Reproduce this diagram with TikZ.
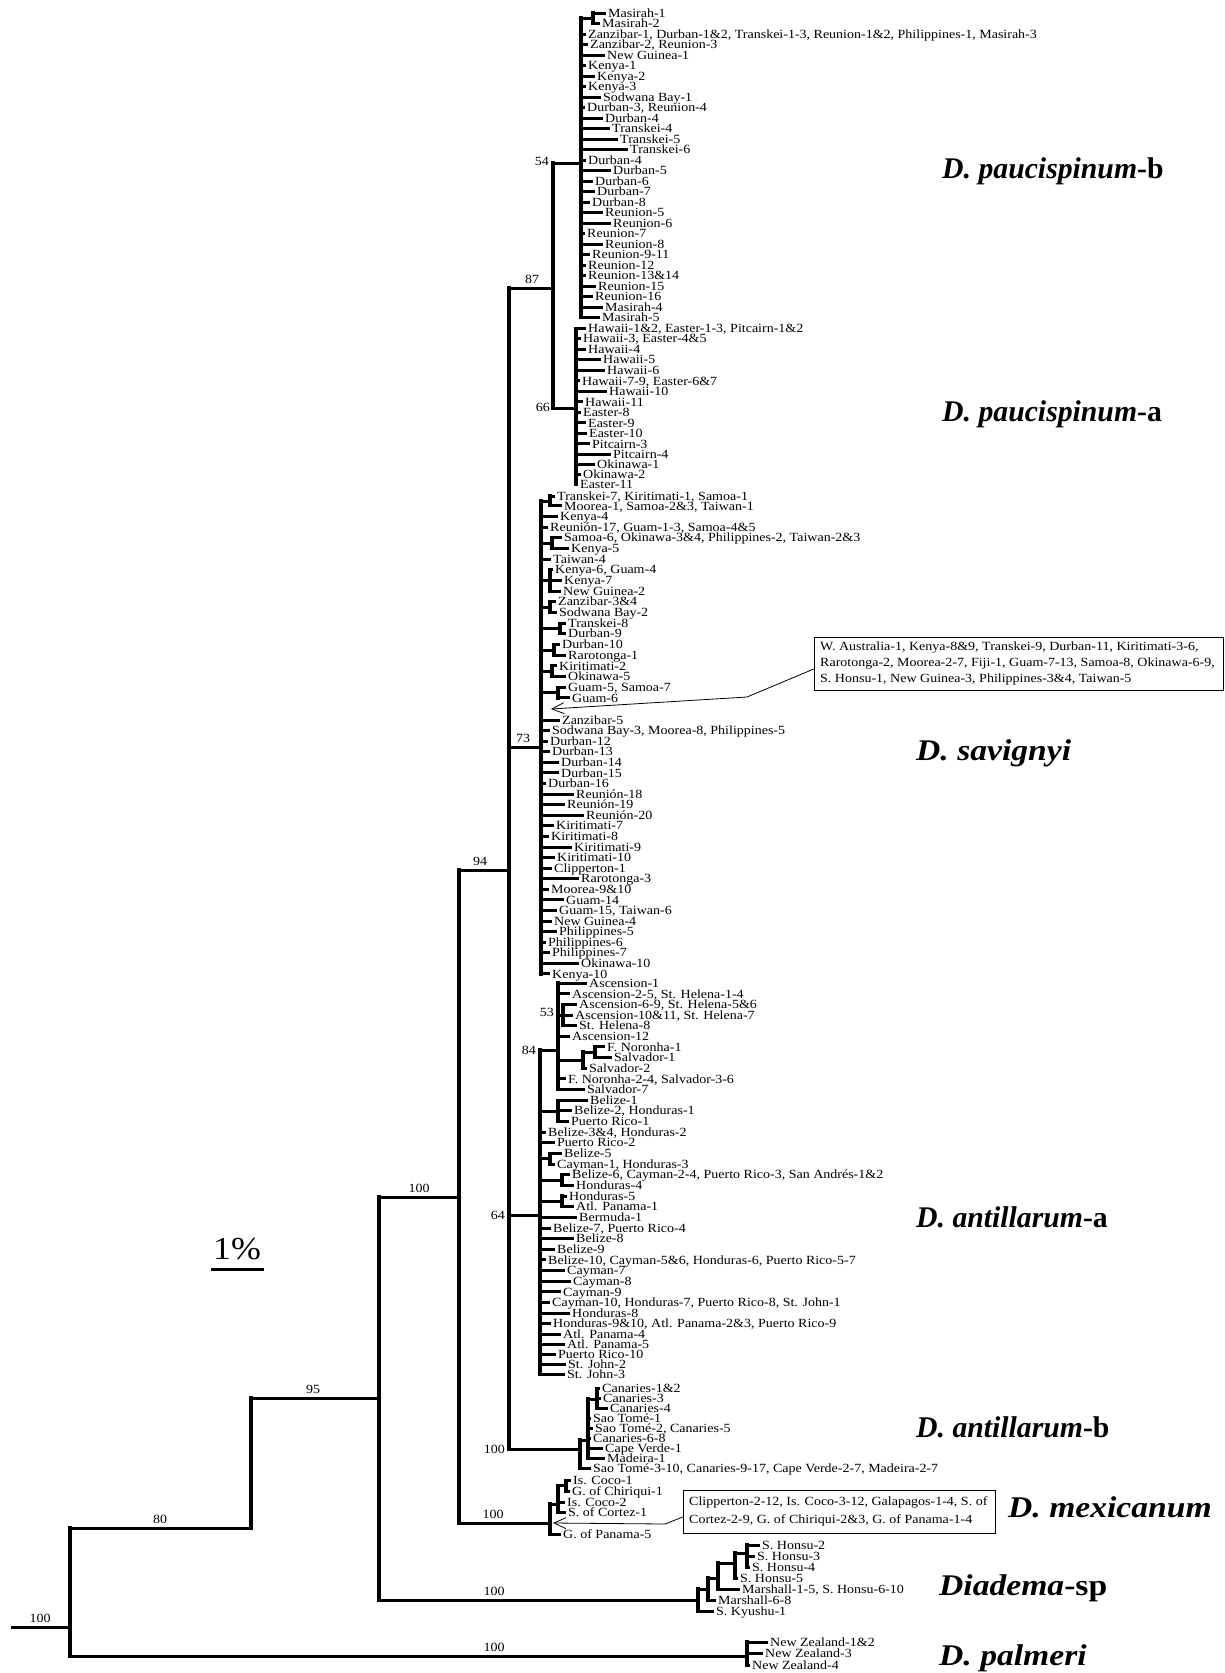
\documentclass[tikz,border=0pt]{standalone}
\usepackage{fontspec}
\setmainfont{Liberation Serif}[FakeStretch=1.12]
\usetikzlibrary{arrows.meta}
\newcommand\leaffnt{\fontsize{12.5}{12.5}\selectfont}
\newcommand\boxfnt{\fontsize{12.5}{16}\selectfont}
\newcommand\cladefnt{\fontsize{30}{30}\selectfont\bfseries}
\tikzset{
  br/.style={line width=3pt},
  vb/.style={line width=3.2pt, line cap=rect},
  lab/.style={font=\leaffnt, anchor=west, inner xsep=2pt, inner ysep=0pt, text height=8.2pt, text depth=0pt},
  bs/.style={font=\leaffnt, inner sep=1pt},
  clade/.style={font=\cladefnt, anchor=base west, inner sep=0pt},
  narrow/.style={xscale=0.885, transform shape},
  ptr/.style={line width=0.8pt, -{Straight Barb[length=12pt,width=11pt]}},
  frame/.style={draw, line width=0.8pt, anchor=north west, inner sep=0pt},
}
\newcommand\leafx[5]{\node[lab] (L#1) at (#3,#4) {#5}; \draw[br] (#2,#4) -- (L#1.west);}
\begin{document}
\begin{tikzpicture}[x=1pt,y=-1pt]
\fill[white] (0,0) rectangle (1225,1673);
\path[use as bounding box] (0,0) rectangle (1225,1673);
% backbone
\coordinate (rootend) at (11,1627);
\coordinate (rootnode) at (70,1627);
\draw[br] (rootend) -- (rootnode);
\draw[vb] (70,1528) -- (70,1656);
\draw[br] (70,1528) -- (251,1528);
\draw[vb] (251,1398) -- (251,1528);
\draw[br] (251,1398) -- (379,1398);
\draw[vb] (379,1197) -- (379,1600);
\draw[br] (379,1197) -- (459,1197);
\draw[vb] (459,870) -- (459,1523);
\draw[br] (459,870) -- (509,870);
\draw[vb] (509,288) -- (509,1449);
% paucispinum
\draw[br] (509,288) -- (553,288);
\draw[vb] (553,163) -- (553,408);
\draw[br] (553,163) -- (581,163);
\draw[vb] (581,18) -- (581,317.8);
\draw[br] (581,18) -- (593,18);
\draw[vb] (593,13) -- (593,23.5);
\draw[br] (553,408) -- (576,408);
\draw[vb] (576,328.3) -- (576,484.5);
% savignyi
\draw[br] (509,747) -- (541,747);
\draw[vb] (541,501) -- (541,973.9);
\draw[br] (541,501) -- (550,501);   \draw[vb] (550,496) -- (550,505.7);
\draw[br] (541,543) -- (552,543);   \draw[vb] (552,537.7) -- (552,548.4);
\draw[br] (541,580.4) -- (550,580.4); \draw[vb] (550,569.8) -- (550,591.1);
\draw[br] (541,607) -- (550,607);   \draw[vb] (550,601.8) -- (550,612.5);
\draw[br] (541,628.5) -- (560,628.5); \draw[vb] (560,623.2) -- (560,633.8);
\draw[br] (541,650) -- (554,650);   \draw[vb] (554,644.5) -- (554,655.2);
\draw[br] (541,671) -- (552,671);   \draw[vb] (552,665.9) -- (552,676.6);
\draw[br] (541,692.5) -- (558,692.5); \draw[vb] (558,687.2) -- (558,697.9);
% antillarum-a
\draw[br] (509,1215) -- (540,1215);
\draw[vb] (540,1050) -- (540,1374.5);
\draw[br] (540,1050) -- (558,1050);
\draw[vb] (558,983) -- (558,1089.5);
\draw[br] (558,1015) -- (563,1015); \draw[vb] (563,1004.3) -- (563,1025.6);
\draw[br] (558,1060) -- (583,1060); \draw[vb] (583,1052) -- (583,1068.2);
\draw[br] (583,1052) -- (595,1052); \draw[vb] (595,1046.9) -- (595,1057.6);
\draw[br] (540,1111) -- (558,1111); \draw[vb] (558,1100.2) -- (558,1121.5);
\draw[br] (540,1158.7) -- (550,1158.7); \draw[vb] (550,1153.4) -- (550,1164.1);
\draw[br] (540,1180) -- (562,1180); \draw[vb] (562,1174.7) -- (562,1185.4);
\draw[br] (540,1201) -- (562,1201); \draw[vb] (562,1196) -- (562,1206.7);
% antillarum-b
\draw[br] (509,1449) -- (580,1449);
\draw[vb] (580,1440) -- (580,1468);
\draw[br] (580,1440) -- (588,1440);
\draw[vb] (588,1399) -- (588,1458.5);
\draw[br] (588,1399) -- (597,1399);
\draw[vb] (597,1388.5) -- (597,1408);
% mexicanum
\draw[br] (459,1523) -- (550,1523);
\draw[vb] (550,1504) -- (550,1534);
\draw[br] (550,1504) -- (558,1504);
\draw[vb] (558,1485.5) -- (558,1512.5);
\draw[br] (558,1485.5) -- (566,1485.5);
\draw[vb] (566,1480.5) -- (566,1491);
% Diadema-sp
\draw[br] (379,1600) -- (698,1600);
\draw[vb] (698,1589) -- (698,1611);
\draw[br] (698,1589) -- (708,1589);
\draw[vb] (708,1578) -- (708,1600);
\draw[br] (708,1578) -- (718,1578);
\draw[vb] (718,1563) -- (718,1589);
\draw[br] (718,1563) -- (735,1563);
\draw[vb] (735,1553) -- (735,1578);
\draw[br] (735,1553) -- (747,1553);
\draw[vb] (747,1545) -- (747,1567);
% palmeri
\draw[br] (70,1656) -- (747,1656);
\draw[vb] (747,1642) -- (747,1665);

% leaves: paucispinum-b
\leafx{1}{593}{606}{13}{Masirah-1}
\leafx{2}{593}{600}{23.5}{Masirah-2}
\leafx{3}{581}{586}{34}{Zanzibar-1, Durban-1\&2, Transkei-1-3, Reunion-1\&2, Philippines-1, Masirah-3}
\leafx{4}{581}{588}{44.5}{Zanzibar-2, Reunion-3}
\leafx{5}{581}{605}{55}{New Guinea-1}
\leafx{6}{581}{586}{65.6}{Kenya-1}
\leafx{7}{581}{595}{76.1}{Kenya-2}
\leafx{8}{581}{586}{86.6}{Kenya-3}
\leafx{9}{581}{601}{97.1}{Sodwana Bay-1}
\leafx{10}{581}{585}{107.6}{Durban-3, Reunion-4}
\leafx{11}{581}{603}{118.1}{Durban-4}
\leafx{12}{581}{610}{128.6}{Transkei-4}
\leafx{13}{581}{618}{139.1}{Transkei-5}
\leafx{14}{581}{628}{149.6}{Transkei-6}
\leafx{15}{581}{586}{160.1}{Durban-4}
\leafx{16}{581}{611}{170.7}{Durban-5}
\leafx{17}{581}{593}{181.2}{Durban-6}
\leafx{18}{581}{595}{191.7}{Durban-7}
\leafx{19}{581}{590}{202.2}{Durban-8}
\leafx{20}{581}{603}{212.7}{Reunion-5}
\leafx{21}{581}{611}{223.2}{Reunion-6}
\leafx{22}{581}{585}{233.7}{Reunion-7}
\leafx{23}{581}{603}{244.2}{Reunion-8}
\leafx{24}{581}{590}{254.7}{Reunion-9-11}
\leafx{25}{581}{586}{265.2}{Reunion-12}
\leafx{26}{581}{586}{275.8}{Reunion-13\&14}
\leafx{27}{581}{596}{286.3}{Reunion-15}
\leafx{28}{581}{593}{296.8}{Reunion-16}
\leafx{29}{581}{603}{307.3}{Masirah-4}
\leafx{30}{581}{600}{317.8}{Masirah-5}
% paucispinum-a
\leafx{31}{576}{586}{328.3}{Hawaii-1\&2, Easter-1-3, Pitcairn-1\&2}
\leafx{32}{576}{581}{338.8}{Hawaii-3, Easter-4\&5}
\leafx{33}{576}{586}{349.3}{Hawaii-4}
\leafx{34}{576}{601}{359.8}{Hawaii-5}
\leafx{35}{576}{605}{370.3}{Hawaii-6}
\leafx{36}{576}{580}{380.9}{Hawaii-7-9, Easter-6\&7}
\leafx{37}{576}{607}{391.4}{Hawaii-10}
\leafx{38}{576}{583}{401.9}{Hawaii-11}
\leafx{39}{576}{581}{412.4}{Easter-8}
\leafx{40}{576}{586}{422.9}{Easter-9}
\leafx{41}{576}{587}{433.4}{Easter-10}
\leafx{42}{576}{590}{443.9}{Pitcairn-3}
\leafx{43}{576}{611}{454.2}{Pitcairn-4}
\leafx{44}{576}{595}{464.6}{Okinawa-1}
\leafx{45}{576}{581}{474.8}{Okinawa-2}
\leafx{46}{576}{578}{484.5}{Easter-11}
% savignyi
\leafx{47}{550}{555}{496}{Transkei-7, Kiritimati-1, Samoa-1}
\leafx{48}{550}{562}{505.9}{Moorea-1, Samoa-2\&3, Taiwan-1}
\leafx{49}{541}{558}{516.4}{Kenya-4}
\leafx{50}{541}{548}{527}{Reunión-17, Guam-1-3, Samoa-4\&5}
\leafx{51}{552}{562}{537.7}{Samoa-6, Okinawa-3\&4, Philippines-2, Taiwan-2\&3}
\leafx{52}{552}{569}{548.4}{Kenya-5}
\leafx{53}{541}{551}{559.1}{Taiwan-4}
\leafx{54}{550}{553}{569.8}{Kenya-6, Guam-4}
\leafx{55}{550}{562}{580.4}{Kenya-7}
\leafx{56}{550}{561}{591.1}{New Guinea-2}
\leafx{57}{550}{556}{601.8}{Zanzibar-3\&4}
\leafx{58}{550}{557}{612.5}{Sodwana Bay-2}
\leafx{59}{560}{566}{623.2}{Transkei-8}
\leafx{60}{560}{566}{633.8}{Durban-9}
\leafx{61}{554}{560}{644.5}{Durban-10}
\leafx{62}{554}{566}{655.2}{Rarotonga-1}
\leafx{63}{552}{557}{665.9}{Kiritimati-2}
\leafx{64}{552}{566}{676.6}{Okinawa-5}
\leafx{65}{558}{566}{687.2}{Guam-5, Samoa-7}
\leafx{66}{558}{570}{697.9}{Guam-6}
\leafx{67}{541}{560}{720}{Zanzibar-5}
\leafx{68}{541}{550}{730.6}{Sodwana Bay-3, Moorea-8, Philippines-5}
\leafx{69}{541}{548}{741.2}{Durban-12}
\leafx{70}{541}{550}{751.7}{Durban-13}
\leafx{71}{541}{559}{762.3}{Durban-14}
\leafx{72}{541}{559}{772.9}{Durban-15}
\leafx{73}{541}{546}{783.5}{Durban-16}
\leafx{74}{541}{574}{794.1}{Reunión-18}
\leafx{75}{541}{565}{804.6}{Reunión-19}
\leafx{76}{541}{584}{815.2}{Reunión-20}
\leafx{77}{541}{554}{825.8}{Kiritimati-7}
\leafx{78}{541}{549}{836.4}{Kiritimati-8}
\leafx{79}{541}{572}{847}{Kiritimati-9}
\leafx{80}{541}{555}{857.5}{Kiritimati-10}
\leafx{81}{541}{552}{868.1}{Clipperton-1}
\leafx{82}{541}{579}{878.7}{Rarotonga-3}
\leafx{83}{541}{549}{889.3}{Moorea-9\&10}
\leafx{84}{541}{564}{899.9}{Guam-14}
\leafx{85}{541}{557}{910.4}{Guam-15, Taiwan-6}
\leafx{86}{541}{552}{921}{New Guinea-4}
\leafx{87}{541}{557}{931.6}{Philippines-5}
\leafx{88}{541}{546}{942.2}{Philippines-6}
\leafx{89}{541}{550}{952.8}{Philippines-7}
\leafx{90}{541}{579}{963.3}{Okinawa-10}
\leafx{91}{541}{550}{973.9}{Kenya-10}
% antillarum-a
\leafx{92}{558}{587}{983.5}{Ascension-1}
\leafx{93}{558}{570}{993.9}{Ascension-2-5, St. Helena-1-4}
\leafx{94}{563}{577}{1004.3}{Ascension-6-9, St. Helena-5\&6}
\leafx{95}{563}{573}{1015}{Ascension-10\&11, St. Helena-7}
\leafx{96}{563}{577}{1025.6}{St. Helena-8}
\leafx{97}{558}{570}{1036.3}{Ascension-12}
\leafx{98}{595}{605}{1046.9}{F. Noronha-1}
\leafx{99}{595}{612}{1057.6}{Salvador-1}
\leafx{100}{583}{587}{1068.2}{Salvador-2}
\leafx{101}{558}{566}{1078.9}{F. Noronha-2-4, Salvador-3-6}
\leafx{102}{558}{585}{1089.5}{Salvador-7}
\leafx{103}{558}{588}{1100.2}{Belize-1}
\leafx{104}{558}{572}{1110.8}{Belize-2, Honduras-1}
\leafx{105}{558}{569}{1121.5}{Puerto Rico-1}
\leafx{106}{540}{546}{1132.1}{Belize-3\&4, Honduras-2}
\leafx{107}{540}{555}{1142.8}{Puerto Rico-2}
\leafx{108}{550}{562}{1153.4}{Belize-5}
\leafx{109}{550}{555}{1164.1}{Cayman-1, Honduras-3}
\leafx{110}{562}{570}{1174.7}{Belize-6, Cayman-2-4, Puerto Rico-3, San Andrés-1\&2}
\leafx{111}{562}{574}{1185.4}{Honduras-4}
\leafx{112}{562}{567}{1196}{Honduras-5}
\leafx{113}{562}{574}{1206.7}{Atl. Panama-1}
\leafx{114}{540}{577}{1217.3}{Bermuda-1}
\leafx{115}{540}{551}{1228}{Belize-7, Puerto Rico-4}
\leafx{116}{540}{574}{1238.6}{Belize-8}
\leafx{117}{540}{555}{1249.3}{Belize-9}
\leafx{118}{540}{546}{1259.9}{Belize-10, Cayman-5\&6, Honduras-6, Puerto Rico-5-7}
\leafx{119}{540}{565}{1270.6}{Cayman-7}
\leafx{120}{540}{571}{1281.2}{Cayman-8}
\leafx{121}{540}{561}{1291.9}{Cayman-9}
\leafx{122}{540}{550}{1302.5}{Cayman-10, Honduras-7, Puerto Rico-8, St. John-1}
\leafx{123}{540}{570}{1313.2}{Honduras-8}
\leafx{124}{540}{551}{1323.8}{Honduras-9\&10, Atl. Panama-2\&3, Puerto Rico-9}
\leafx{125}{540}{561}{1334.3}{Atl. Panama-4}
\leafx{126}{540}{565}{1344.6}{Atl. Panama-5}
\leafx{127}{540}{556}{1354.7}{Puerto Rico-10}
\leafx{128}{540}{566}{1364.6}{St. John-2}
\leafx{129}{540}{565}{1374.5}{St. John-3}
% antillarum-b
\leafx{130}{597}{600}{1388.5}{Canaries-1\&2}
\leafx{131}{597}{601}{1398.2}{Canaries-3}
\leafx{132}{597}{608}{1408}{Canaries-4}
\leafx{133}{588}{591}{1418}{Sao Tomé-1}
\leafx{134}{588}{593}{1428.2}{Sao Tomé-2, Canaries-5}
\leafx{135}{588}{591}{1438.4}{Canaries-6-8}
\leafx{136}{588}{603}{1448.5}{Cape Verde-1}
\leafx{137}{588}{605}{1458.5}{Madeira-1}
\leafx{138}{580}{591}{1468}{Sao Tomé-3-10, Canaries-9-17, Cape Verde-2-7, Madeira-2-7}
% mexicanum
\leafx{139}{566}{571}{1480.5}{Is. Coco-1}
\leafx{140}{566}{570}{1491}{G. of Chiriqui-1}
\leafx{141}{558}{565}{1502}{Is. Coco-2}
\leafx{142}{558}{566}{1512.5}{S. of Cortez-1}
\leafx{143}{550}{561}{1534}{G. of Panama-5}
% Diadema-sp
\leafx{144}{747}{760}{1545}{S. Honsu-2}
\leafx{145}{747}{755}{1556}{S. Honsu-3}
\leafx{146}{747}{750}{1567}{S. Honsu-4}
\leafx{147}{735}{738}{1578}{S. Honsu-5}
\leafx{148}{718}{740}{1589}{Marshall-1-5, S. Honsu-6-10}
\leafx{149}{708}{716}{1600}{Marshall-6-8}
\leafx{150}{698}{714}{1611}{S. Kyushu-1}
% palmeri
\leafx{151}{747}{768}{1642}{New Zealand-1\&2}
\leafx{152}{747}{763}{1653.5}{New Zealand-3}
\leafx{153}{747}{750}{1665}{New Zealand-4}

% bootstrap values
\node[bs, anchor=south] (b1) at (40,1624) {100};
\node[bs, anchor=south] (b2) at (160,1525) {80};
\node[bs, anchor=south] (b3) at (313,1395) {95};
\node[bs, anchor=south] (b4) at (419,1194) {100};
\node[bs, anchor=south] (b5) at (494,1597) {100};
\node[bs, anchor=south] (b6) at (494,1653) {100};
\node[bs, anchor=south] (b7) at (480,867) {94};
\node[bs, anchor=south] (b8) at (493,1520) {100};
\node[bs, anchor=south] (b9) at (532,285) {87};
\node[bs, anchor=south] (b10) at (523,744) {73};
\node[bs, anchor=east] (b11) at (550,161) {54};
\node[bs, anchor=east] (b12) at (551,407) {66};
\node[bs, anchor=east] (b13) at (537,1050) {84};
\node[bs, anchor=east] (b14) at (506,1215) {64};
\node[bs, anchor=east] (b15) at (555,1012) {53};
\node[bs, anchor=east] (b16) at (506,1449) {100};

% boxes with pointers
\node[frame, minimum width=409pt, minimum height=53pt] (box1) at (814,637) {};
\node[font=\boxfnt, align=left, anchor=west, inner sep=0pt] (box1t) at ([xshift=6pt]box1.west)
  {W. Australia-1, Kenya-8\&9, Transkei-9, Durban-11, Kiritimati-3-6,\\
   Rarotonga-2, Moorea-2-7, Fiji-1, Guam-7-13, Samoa-8, Okinawa-6-9,\\
   S. Honsu-1, New Guinea-3, Philippines-3\&4, Taiwan-5};
\coordinate (tip1) at (551,709);
\draw[ptr] ([yshift=-5pt]box1.west) -- (747,697) -- (tip1);

\node[frame, minimum width=312pt, minimum height=43pt] (box2) at (683,1490) {};
\node[font=\fontsize{12.5}{18}\selectfont, align=left, anchor=west, inner sep=0pt] (box2t) at ([xshift=6pt]box2.west)
  {Clipperton-2-12, Is. Coco-3-12, Galapagos-1-4, S. of\\
   Cortez-2-9, G. of Chiriqui-2\&3, G. of Panama-1-4};
\coordinate (tip2) at (553,1523);
\draw[ptr] ([yshift=-5pt]box2.west) -- (665,1524) -- (tip2);

% clade names
\node[clade, narrow] (c1) at (942,178) {\textit{D. paucispinum}-b};
\node[clade, narrow] (c2) at (942,421) {\textit{D. paucispinum}-a};
\node[clade] (c3) at (916,760) {\textit{D. savignyi}};
\node[clade, narrow] (c4) at (916,1227) {\textit{D. antillarum}-a};
\node[clade, narrow] (c5) at (916,1437) {\textit{D. antillarum}-b};
\node[clade] (c6) at (1008,1517) {\textit{D. mexicanum}};
\node[clade] (c7) at (939,1595) {\textit{Diadema}-sp};
\node[clade] (c8) at (939,1665) {\textit{D. palmeri}};

% scale bar
\node[font=\fontsize{32}{32}\selectfont, anchor=base west, inner sep=0pt] (scl) at (213,1259) {1\%};
\coordinate (sb1) at (211,1269);
\coordinate (sb2) at (264,1269);
\draw[br] (sb1) -- (sb2);
\end{tikzpicture}
\end{document}
